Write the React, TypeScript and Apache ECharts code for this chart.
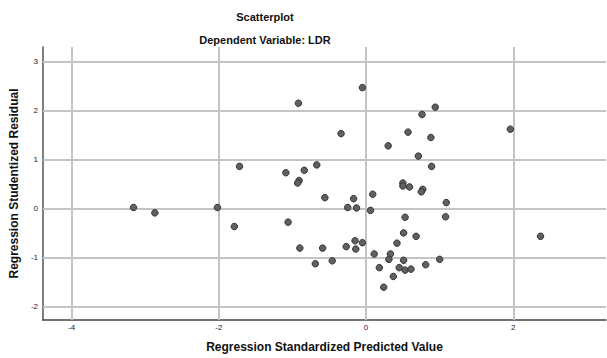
import React, { useEffect, useRef } from "react";
import * as echarts from "echarts";

const xValues = [
  -3.16, -2.87, -2.02, -1.79, -0.05, -0.92, -0.34, 0.30, -1.72, -1.09,
  -0.84, -0.67, -0.91, -0.93, 0.09, -0.56, -0.17, -0.25, -0.13, 0.06,
  -1.06, -0.90, -0.59, -0.27, -0.15, -0.14, -0.05, -0.69, -0.46, 0.11,
  0.33, 0.31, 0.42, 0.18, 0.37, 0.24, 0.45, 0.94, 0.76, 0.57,
  0.88, 1.96, 0.71, 0.89, 0.50, 0.50, 0.59, 0.77, 0.75, 1.09,
  1.08, 0.53, 0.51, 0.68, 2.37, 0.51, 1.00, 0.81, 0.53, 0.61,
];
const yValues = [
  0.02, -0.09, 0.02, -0.37, 2.47, 2.15, 1.53, 1.28, 0.86, 0.73,
  0.78, 0.89, 0.57, 0.52, 0.29, 0.22, 0.20, 0.02, 0.01, -0.04,
  -0.28, -0.81, -0.81, -0.78, -0.66, -0.83, -0.70, -1.13, -1.07, -0.93,
  -0.93, -1.04, -0.71, -1.21, -1.39, -1.61, -1.21, 2.07, 1.92, 1.56,
  1.45, 1.62, 1.07, 0.86, 0.52, 0.46, 0.44, 0.39, 0.34, 0.12,
  -0.17, -0.18, -0.50, -0.57, -0.57, -1.06, -1.04, -1.15, -1.26, -1.24,
];
const xGridValues = [-4, -2, 0, 2];
const yGridValues = [-2, -1, 0, 1, 2, 3];
const xRange = [-4.39, 3.26];
const yRange = [-2.28, 3.3];

const FONT = '"Liberation Sans", Arial, sans-serif';

export default function App() {
  const ref = useRef<HTMLDivElement>(null);
  useEffect(() => {
    if (!ref.current) return;
    const chart = echarts.init(ref.current, undefined, { renderer: "svg" });
    const data = xValues.map((x, i) => [x, yValues[i]]);
    const gridLine = { color: "#c4c4c4", width: 2, type: "solid" };
    chart.setOption({
      animation: false,
      backgroundColor: "#ffffff",
      textStyle: { fontFamily: FONT },
      grid: { left: 42, right: 1, top: 47, bottom: 33, containLabel: false },
      graphic: [
        {
          type: "text",
          x: 265,
          y: 17,
          style: {
            text: "Scatterplot",
            textAlign: "center",
            textVerticalAlign: "middle",
            font: `bold 11px ${FONT}`,
            fill: "#111",
          },
        },
        {
          type: "text",
          x: 265,
          y: 40,
          style: {
            text: "Dependent Variable: LDR",
            textAlign: "center",
            textVerticalAlign: "middle",
            font: `bold 11px ${FONT}`,
            fill: "#111",
          },
        },
      ],
      xAxis: {
        type: "value",
        min: xRange[0],
        max: xRange[1],
        name: "Regression Standardized Predicted Value",
        nameLocation: "middle",
        nameGap: 21,
        nameTextStyle: { fontFamily: FONT, fontWeight: "bold", fontSize: 12, color: "#111" },
        axisLine: { show: true, onZero: false, lineStyle: { color: "#444", width: 1.5 } },
        axisTick: { show: false },
        splitLine: { show: false },
        axisLabel: {
          fontFamily: FONT,
          fontSize: 8,
          color: "#222",
          margin: 3,
          customValues: xGridValues,
        },
      },
      yAxis: {
        type: "value",
        min: yRange[0],
        max: yRange[1],
        name: "Regression Studentized Residual",
        nameLocation: "middle",
        nameGap: 21,
        nameTextStyle: { fontFamily: FONT, fontWeight: "bold", fontSize: 12, color: "#111" },
        axisLine: { show: true, onZero: false, lineStyle: { color: "#555", width: 1.5 } },
        axisTick: { show: false },
        splitLine: { show: false },
        axisLabel: {
          fontFamily: FONT,
          fontSize: 8,
          color: "#222",
          margin: 5,
          customValues: yGridValues,
        },
      },
      series: [
        {
          type: "scatter",
          data,
          symbol: "circle",
          symbolSize: 6.5,
          itemStyle: { color: "#606060", borderColor: "#333", borderWidth: 1, opacity: 1 },
          z: 5,
          markLine: {
            silent: true,
            symbol: ["none", "none"],
            label: { show: false },
            lineStyle: gridLine,
            z: 1,
            data: [
              ...xGridValues.map((v) => ({ xAxis: v })),
              ...yGridValues.map((v) => ({ yAxis: v })),
            ],
          },
        },
      ],
    });
    return () => chart.dispose();
  }, []);
  return (
    <div
      ref={ref}
      style={{ position: "fixed", left: 0, top: 0, width: 607, height: 358 }}
    />
  );
}
